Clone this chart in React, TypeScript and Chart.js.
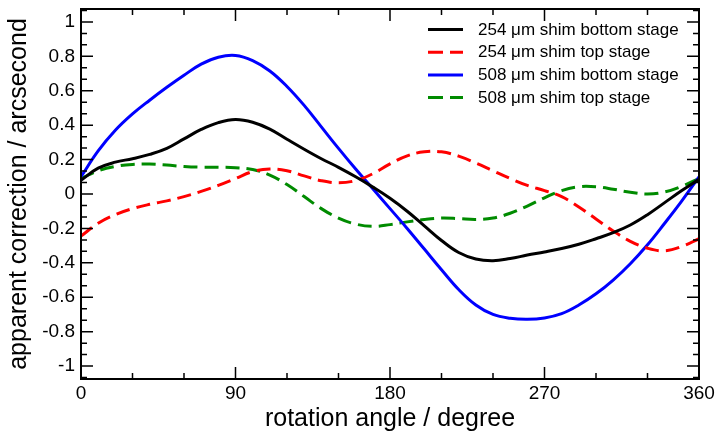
import { useEffect, useRef } from 'react';
import { Chart, registerables } from 'chart.js';

Chart.register(...registerables);

const angles = [0, 10, 20, 30, 40, 50, 60, 70, 80, 90, 100, 110, 120, 130, 140, 150, 160, 170, 180, 190, 200, 210, 220, 230, 240, 250, 260, 270, 280, 290, 300, 310, 320, 330, 340, 350, 360];
const shim254Bottom = [0.08, 0.15, 0.185, 0.205, 0.23, 0.265, 0.32, 0.375, 0.415, 0.433, 0.417, 0.377, 0.318, 0.26, 0.205, 0.155, 0.1, 0.04, -0.025, -0.1, -0.185, -0.27, -0.34, -0.378, -0.388, -0.375, -0.355, -0.337, -0.317, -0.292, -0.26, -0.225, -0.18, -0.12, -0.05, 0.02, 0.085];
const shim254Top = [-0.245, -0.17, -0.12, -0.085, -0.06, -0.04, -0.015, 0.015, 0.05, 0.09, 0.13, 0.145, 0.135, 0.105, 0.077, 0.065, 0.078, 0.118, 0.175, 0.222, 0.245, 0.245, 0.22, 0.18, 0.135, 0.09, 0.05, 0.02, -0.015, -0.075, -0.145, -0.215, -0.275, -0.315, -0.33, -0.305, -0.26];
const shim508Bottom = [0.1, 0.25, 0.37, 0.465, 0.545, 0.62, 0.69, 0.755, 0.795, 0.805, 0.775, 0.715, 0.625, 0.515, 0.39, 0.265, 0.145, 0.03, -0.085, -0.2, -0.32, -0.44, -0.555, -0.645, -0.7, -0.722, -0.728, -0.72, -0.695, -0.645, -0.58, -0.5, -0.405, -0.295, -0.17, -0.04, 0.1];
const shim508Top = [0.09, 0.135, 0.16, 0.172, 0.174, 0.168, 0.16, 0.156, 0.156, 0.153, 0.142, 0.11, 0.055, -0.015, -0.085, -0.14, -0.175, -0.188, -0.178, -0.162, -0.148, -0.14, -0.143, -0.148, -0.14, -0.112, -0.07, -0.022, 0.02, 0.042, 0.042, 0.028, 0.01, 0.0, 0.012, 0.045, 0.09];

const seriesLabels = ['254 μm shim bottom stage', '254 μm shim top stage', '508 μm shim bottom stage', '508 μm shim top stage'];
const seriesColors = ['#000000', '#ff0000', '#0000ff', '#008b00'];
const seriesDashed = [false, true, false, true];
const seriesValues = [shim254Bottom, shim254Top, shim508Bottom, shim508Top];

const xTicks = [0, 90, 180, 270, 360];
const yTicks = [-1, -0.8, -0.6, -0.4, -0.2, 0, 0.2, 0.4, 0.6, 0.8, 1];
const xLabel = 'rotation angle / degree';
const yLabel = 'apparent correction / arcsecond';

const FONT = '"Liberation Sans", Arial, Helvetica, sans-serif';
const DASH = [14, 7];

const decorPlugin = {
  id: 'decor',
  afterDatasetsDraw(chart: any) {
    const { ctx, chartArea: a, scales } = chart;
    const xs = scales.x;
    const ys = scales.y;
    ctx.save();
    ctx.strokeStyle = '#000';
    ctx.lineWidth = 1.5;
    for (let k = 0; k <= 12; k++) {
      const v = k * 30;
      const px = xs.getPixelForValue(v);
      const len = k % 3 === 0 ? 12 : 6;
      ctx.beginPath();
      ctx.moveTo(px, a.bottom);
      ctx.lineTo(px, a.bottom - len);
      ctx.moveTo(px, a.top);
      ctx.lineTo(px, a.top + len);
      ctx.stroke();
    }
    for (let k = -16; k <= 16; k++) {
      const v = (k * 0.2) / 3;
      if (v < ys.min || v > ys.max) continue;
      const py = ys.getPixelForValue(v);
      const len = k % 3 === 0 ? 12 : 6;
      ctx.beginPath();
      ctx.moveTo(a.left, py);
      ctx.lineTo(a.left + len, py);
      ctx.moveTo(a.right, py);
      ctx.lineTo(a.right - len, py);
      ctx.stroke();
    }
    ctx.lineWidth = 2;
    ctx.strokeRect(a.left, a.top, a.right - a.left, a.bottom - a.top);

    const lx0 = 428;
    const lx1 = 463;
    const tx = 478;
    const y0 = 29.5;
    const dy = 22.7;
    ctx.font = `17px ${FONT}`;
    ctx.textBaseline = 'middle';
    ctx.textAlign = 'left';
    for (let i = 0; i < seriesLabels.length; i++) {
      const y = y0 + i * dy;
      ctx.strokeStyle = seriesColors[i];
      ctx.lineWidth = 3;
      ctx.setLineDash(seriesDashed[i] ? [15, 7] : []);
      ctx.beginPath();
      ctx.moveTo(lx0, y);
      ctx.lineTo(lx1, y);
      ctx.stroke();
      ctx.setLineDash([]);
      ctx.fillStyle = '#000';
      ctx.fillText(seriesLabels[i], tx, y + 0.5);
    }
    ctx.restore();
  },
};

export default function App() {
  const ref = useRef<HTMLCanvasElement>(null);
  useEffect(() => {
    if (!ref.current) return;
    const chart = new Chart(ref.current, {
      type: 'line',
      data: {
        datasets: seriesValues.map((vals, i) => ({
          label: seriesLabels[i],
          data: angles.map((x, j) => ({ x, y: vals[j] })),
          borderColor: seriesColors[i],
          backgroundColor: seriesColors[i],
          borderWidth: 3,
          borderDash: seriesDashed[i] ? DASH : [],
          pointRadius: 0,
          tension: 0.4,
          fill: false,
        })),
      },
      options: {
        responsive: false,
        animation: false,
        layout: { padding: { top: 9, right: 26, bottom: 0, left: 0 } },
        plugins: {
          legend: { display: false },
          tooltip: { enabled: false },
        },
        scales: {
          x: {
            type: 'linear',
            min: 0,
            max: 360,
            grid: { display: false, drawTicks: false, tickLength: 0 },
            border: { display: false },
            ticks: {
              color: '#000',
              font: { family: FONT, size: 19 },
              padding: 3,
              maxRotation: 0,
              callback: (v: any) => String(v),
            },
            afterBuildTicks: (s: any) => {
              s.ticks = xTicks.map((v) => ({ value: v }));
            },
            afterFit: (s: any) => {
              s.height = 62;
              s.paddingLeft = 0;
              s.paddingRight = 0;
            },
            title: {
              display: true,
              text: xLabel,
              color: '#000',
              font: { family: FONT, size: 25 },
              padding: { top: 0, bottom: 7 },
            },
          },
          y: {
            type: 'linear',
            min: -1.075,
            max: 1.075,
            grid: { display: false, drawTicks: false, tickLength: 0 },
            border: { display: false },
            ticks: {
              color: '#000',
              font: { family: FONT, size: 19 },
              padding: 6,
              callback: (v: any) => String(Number(Number(v).toFixed(1))),
            },
            afterBuildTicks: (s: any) => {
              s.ticks = yTicks.map((v) => ({ value: v }));
            },
            afterFit: (s: any) => {
              s.width = 81;
              s.paddingTop = 0;
              s.paddingBottom = 0;
            },
            title: {
              display: true,
              text: yLabel,
              color: '#000',
              font: { family: FONT, size: 25 },
              padding: { top: 4, bottom: 0 },
            },
          },
        },
      },
      plugins: [decorPlugin],
    });
    return () => chart.destroy();
  }, []);
  return (
    <div style={{ position: 'absolute', left: 0, top: 0, width: 725, height: 441, background: '#fff' }}>
      <canvas ref={ref} width={725} height={441} />
    </div>
  );
}
